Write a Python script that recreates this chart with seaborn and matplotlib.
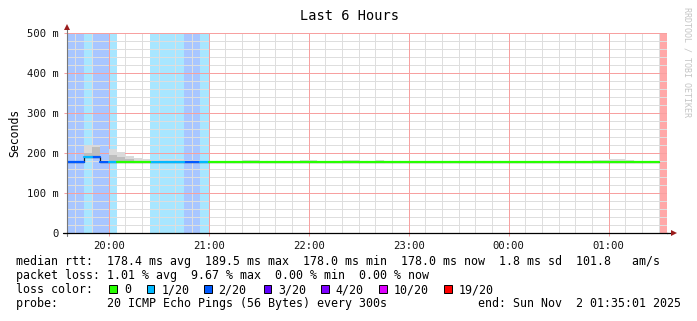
import numpy as np
import pandas as pd
import matplotlib
matplotlib.use("Agg")
import matplotlib.pyplot as plt
import matplotlib.colors as mcolors
import seaborn as sns
from matplotlib.patches import Rectangle
from matplotlib.ticker import FixedLocator

# ---------------- data (one value per 5-minute step, 19:35 -> 01:35) -------------
STEP_MIN = 5
loss_counts = [
    2, 2, 1, 2, 2, 1, 0, 0, 0, 0, 1, 1,
    1, 1, 2, 2, 1, 0, 0, 0, 0, 0, 0, 0,
    0, 0, 0, 0, 0, 0, 0, 0, 0, 0, 0, 0,
    0, 0, 0, 0, 0, 0, 0, 0, 0, 0, 0, 0,
    0, 0, 0, 0, 0, 0, 0, 0, 0, 0, 0, 0,
    0, 0, 0, 0, 0, 0, 0, 0, 0, 0, 0, 19,
]
median_ms = [
    178.2, 178.1, 189.5, 189.3, 178.3, 178.2, 178.0, 178.0, 178.0, 178.0, 178.1, 178.1,
    178.1, 178.1, 178.2, 178.1, 178.0, 178.0, 178.0, 178.0, 178.0, 178.0, 178.0, 178.0,
    178.0, 178.0, 178.0, 178.0, 178.0, 178.0, 178.0, 178.0, 178.0, 178.0, 178.0, 178.0,
    178.0, 178.0, 178.0, 178.0, 178.0, 178.0, 178.0, 178.0, 178.0, 178.0, 178.0, 178.0,
    178.0, 178.0, 178.0, 178.0, 178.0, 178.0, 178.0, 178.0, 178.0, 178.0, 178.0, 178.0,
    178.0, 178.0, 178.0, 178.0, 178.0, 178.0, 178.0, 178.0, 178.0, 178.0, 178.0, np.nan,
]
smoke_max_ms = [
    181, 181, 219, 219, 182, 210, 203, 193, 188, 185, 183, 184,
    186, 186, 182, 182, 181, 179, 179, 179, 179, 183, 183, 179,
    179, 179, 179, 179, 182, 182, 179, 179, 179, 182, 182, 179,
    179, 182, 179, 179, 179, 179, 179, 179, 179, 179, 179, 179,
    179, 179, 179, 179, 179, 179, 179, 179, 179, 179, 179, 179,
    179, 179, 179, 183, 183, 185, 185, 183, 179, 179, 179, np.nan,
]
smoke_mid_ms = [
    179, 179, 200, 214, 179, 195, 190, 184, 179, 179, 179, 179,
    179, 179, 179, 179, 179, 179, 179, 179, 179, 179, 179, 179,
    179, 179, 179, 179, 179, 179, 179, 179, 179, 179, 179, 179,
    179, 179, 179, 179, 179, 179, 179, 179, 179, 179, 179, 179,
    179, 179, 179, 179, 179, 179, 179, 179, 179, 179, 179, 179,
    179, 179, 179, 179, 179, 179, 179, 179, 179, 179, 179, np.nan,
]
hour_ticks_min = [25, 85, 145, 205, 265, 325]
hour_labels = ["20:00", "21:00", "22:00", "23:00", "00:00", "01:00"]
y_ticks = [0, 100, 200, 300, 400, 500]
y_labels = ["0", "100 m", "200 m", "300 m", "400 m", "500 m"]

loss_names = {0: "0", 1: "1/20", 2: "2/20", 3: "3/20", 4: "4/20", 10: "10/20", 19: "19/20"}
loss_colors = {"0": "#26ff00", "1/20": "#00b8ff", "2/20": "#0059ff", "3/20": "#5e00ff",
               "4/20": "#7e00ff", "10/20": "#dd00ff", "19/20": "#ff0000"}

title = "Last 6 Hours"
legend_lines = [
    "median rtt:  178.4 ms avg  189.5 ms max  178.0 ms min  178.0 ms now  1.8 ms sd  101.8   am/s",
    "packet loss: 1.01 % avg  9.67 % max  0.00 % min  0.00 % now",
    "loss color:",
    "probe:       20 ICMP Echo Pings (56 Bytes) every 300s",
]
end_text = "end: Sun Nov  2 01:35:01 2025"

MAJOR_GRID = "#f7a0a0"
MINOR_GRID = "#dedede"

# ---------------- figure ----------------
W, H = 697, 321
sns.set_theme(style="white")
plt.rcParams["font.family"] = ["DejaVu Sans Mono", "DejaVu Sans"]

fig = plt.figure(figsize=(W / 100, H / 100), dpi=100)
fig.patch.set_facecolor("white")

def fx(x):
    return x / W

def fy(y):
    return 1 - y / H

ax = fig.add_axes([fx(67), fy(233), fx(667) - fx(67), fy(33) - fy(233)])
ax.set_facecolor("white")

t_start = np.arange(len(loss_counts)) * STEP_MIN
loss_cat = [loss_names[c] for c in loss_counts]
med = np.array(median_ms, dtype=float)
smax = np.array(smoke_max_ms, dtype=float)
smid = np.array(smoke_mid_ms, dtype=float)

# loss background bands
band_cols = [((1, 1, 1, 0) if c == "0" else mcolors.to_rgba(loss_colors[c], 0.34))
             for c in loss_cat]
ax.bar(t_start, 500, width=STEP_MIN, bottom=0, align="edge", color=band_cols,
       linewidth=0, zorder=0.2)

# grid lines (explicit, above the bands, below the data)
x_minor = [m for m in np.arange(5, 360, 10) if m not in hour_ticks_min]
y_minor = [v for v in np.arange(20, 500, 20) if v not in y_ticks]
for xm in x_minor:
    ax.axvline(xm, color=MINOR_GRID, lw=0.72, zorder=0.5)
for ym in y_minor:
    ax.axhline(ym, color=MINOR_GRID, lw=0.72, zorder=0.5)
for xm in hour_ticks_min:
    ax.axvline(xm, color=MAJOR_GRID, lw=0.72, zorder=0.6)
for ym in y_ticks[1:]:
    ax.axhline(ym, color=MAJOR_GRID, lw=0.72, zorder=0.6)

# smoke
ok = ~np.isnan(med)
ax.bar(t_start[ok], (smax - med)[ok], bottom=med[ok], width=STEP_MIN, align="edge",
       color="#dadada", linewidth=0, zorder=2)
ax.bar(t_start[ok], (smid - med)[ok], bottom=med[ok], width=STEP_MIN, align="edge",
       color="#bdbdbd", linewidth=0, zorder=2.1)

# median line (two points per step)
rows = []
for i in range(len(med)):
    if np.isnan(med[i]):
        continue
    rows.append((t_start[i], med[i], i, loss_cat[i]))
    rows.append((t_start[i] + STEP_MIN, med[i], i, loss_cat[i]))
df_line = pd.DataFrame(rows, columns=["t", "v", "step", "loss"])

sns.lineplot(data=df_line, x="t", y="v", sort=False, estimator=None, color="#202020",
             linewidth=0.9, ax=ax, zorder=3)
sns.lineplot(data=df_line, x="t", y="v", hue="loss", units="step", sort=False,
             estimator=None, palette=loss_colors, linewidth=1.6, legend=False, ax=ax,
             zorder=4)

# axes
ax.grid(False)
ax.set_xlim(0, 360)
ax.set_ylim(0, 500)
ax.set_xlabel("")
ax.set_ylabel("")
ax.xaxis.set_major_locator(FixedLocator(hour_ticks_min))
ax.set_xticklabels(hour_labels)
ax.yaxis.set_major_locator(FixedLocator(y_ticks))
ax.set_yticklabels(y_labels)
ax.tick_params(axis="x", which="major", length=2.5, width=0.75, color=MAJOR_GRID,
               pad=3.5, labelsize=7.6, labelcolor="#111111", direction="out", bottom=True)
ax.tick_params(axis="y", which="major", length=2.5, width=0.75, color=MAJOR_GRID,
               pad=3.2, labelsize=7.6, labelcolor="#111111", direction="out", left=True)
ax.tick_params(which="minor", length=0)

for s in ["top", "right"]:
    ax.spines[s].set_visible(False)
ax.spines["left"].set_color("#777777")
ax.spines["left"].set_linewidth(0.8)
ax.spines["bottom"].set_color("black")
ax.spines["bottom"].set_linewidth(0.9)
ax.spines["left"].set_zorder(5)
ax.spines["bottom"].set_zorder(5)

# axis extensions and arrows
ax.plot([0, 0], [1.0, 1.03], transform=ax.transAxes, color="#777777", lw=0.8, clip_on=False)
ax.plot([1.0, 1.008], [0, 0], transform=ax.transAxes, color="black", lw=0.9, clip_on=False)
ax.plot([-0.006, 0], [0, 0], transform=ax.transAxes, color="black", lw=0.9, clip_on=False)
ax.plot([0, 0], [-0.015, 0], transform=ax.transAxes, color="#777777", lw=0.8, clip_on=False)
ax.plot([0], [1.03], marker="^", markersize=4.2, color="#9b1c1c", transform=ax.transAxes,
        clip_on=False, markeredgewidth=0)
ax.plot([1.011], [0], marker=">", markersize=4.2, color="#9b1c1c", transform=ax.transAxes,
        clip_on=False, markeredgewidth=0)

# texts
fig.text(fx(349), fy(20), title, ha="center", va="baseline", fontsize=9.8, color="black")
fig.text(fx(15), fy(133), "Seconds", rotation=90, ha="center", va="center",
         fontsize=8.3, color="black")
fig.text(fx(687), fy(7), "RRDTOOL / TOBI OETIKER", rotation=270, ha="center", va="top",
         fontsize=6.0, color="#c4c4c4")

baselines = [265.2, 279.3, 293.1, 307.4]
for txt, yb in zip(legend_lines, baselines):
    fig.text(fx(16), fy(yb), txt, ha="left", va="baseline", fontsize=8.4, color="black")
fig.text(fx(681), fy(baselines[3]), end_text, ha="right", va="baseline", fontsize=8.4,
         color="black")

swatch_x = [109.3, 146.7, 204.0, 263.5, 321.3, 379.2, 444.2]
for sx, name in zip(swatch_x, list(loss_colors.keys())):
    fig.patches.append(Rectangle((fx(sx), fy(292.7)), 7.6 / W, 7.6 / H,
                                 transform=fig.transFigure, facecolor=loss_colors[name],
                                 edgecolor="black", linewidth=0.7))
    fig.text(fx(sx + 14.5), fy(baselines[2]), name, ha="left", va="baseline",
             fontsize=8.4, color="black")

fig.savefig("out.png", dpi=100, facecolor="white")
